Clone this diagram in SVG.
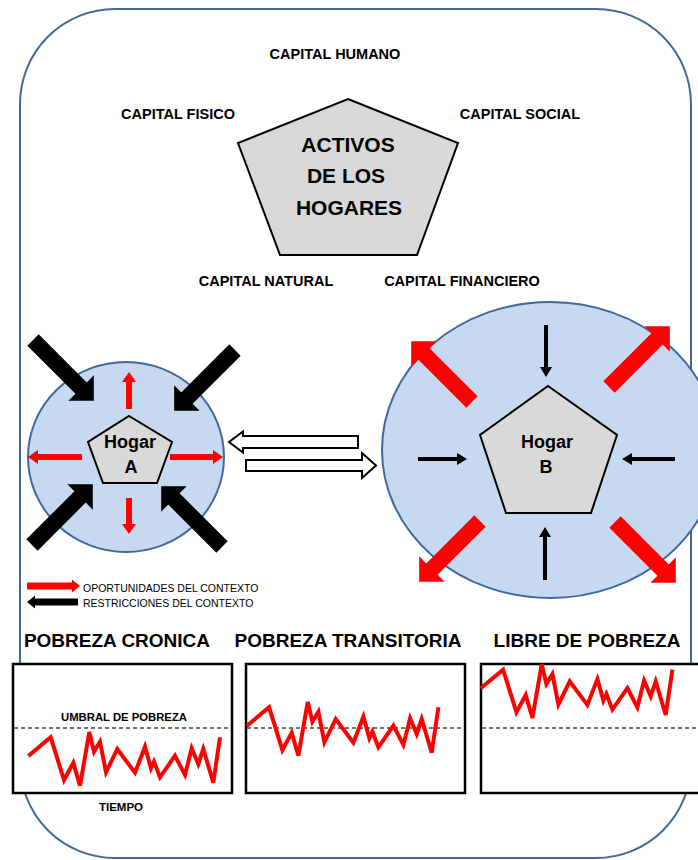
<svg xmlns="http://www.w3.org/2000/svg" xmlns:xlink="http://www.w3.org/1999/xlink" width="698" height="860" viewBox="0 0 698 860">
<style>
text{font-family:"Liberation Sans",Arial,sans-serif;fill:#000}
.b{font-weight:bold}
.cap{font-size:14.5px;font-weight:bold;text-anchor:middle}
.title{font-size:19px;font-weight:bold;text-anchor:middle}
.pent{fill:#d9d9d9;stroke:#000;stroke-width:2;stroke-linejoin:miter}
.circ{fill:#c6d9f1;stroke:#41699a;stroke-width:2}
.box{fill:#fff;stroke:#000;stroke-width:2.5}
.dash{stroke:#444;stroke-width:1.5;stroke-dasharray:4 3;fill:none}
.zig{fill:none;stroke:#ff0000;stroke-width:4;stroke-linejoin:miter}
.red{fill:#ff0000}
.blk{fill:#000}
.hollow{fill:#fff;stroke:#000;stroke-width:2;stroke-linejoin:miter}
</style>
<defs>
<polygon id="bigArrow" points="0,-8 68,-8 68,-18 86,0 68,18 68,8 0,8"/>
<polyline id="zigLine" points="28.3,756 50.7,737.3 64,780 73.3,762.7 80,785.7 89.3,732 94,751.7 100,741.7 106,772.3 117.3,749 135,772.7 145,746.7 151,768.3 154,761.7 160,777.3 175,755.7 185,775 191.7,748.3 198.3,764 203.3,749 213.3,782.7 220,737.3"/>
</defs>
<rect width="698" height="860" fill="#fff"/>
<g id="frame">
<rect x="20" y="9" width="671" height="849" rx="95" ry="95" fill="none" stroke="#41699a" stroke-width="2"/>
</g>
<g id="activos">
<polygon class="pent" points="348,99 458,143 417,255 280,255 238,143"/>
<text class="b" font-size="21" text-anchor="middle" x="348" y="152">ACTIVOS</text>
<text class="b" font-size="21" text-anchor="middle" x="346" y="183">DE LOS</text>
<text class="b" font-size="21" text-anchor="middle" x="349" y="215">HOGARES</text>
</g>
<g id="capitales">
<text class="cap" x="335" y="59">CAPITAL HUMANO</text>
<text class="cap" x="178" y="119">CAPITAL FISICO</text>
<text class="cap" x="520" y="119">CAPITAL SOCIAL</text>
<text class="cap" x="266" y="286">CAPITAL NATURAL</text>
<text class="cap" x="462" y="286">CAPITAL FINANCIERO</text>
</g>
<g id="circuloA">
<ellipse class="circ" cx="126" cy="457" rx="98" ry="95"/>
</g>
<g id="circuloB">
<ellipse class="circ" cx="550" cy="450" rx="168" ry="148"/>
</g>
<g id="hogarA">
<polygon class="pent" points="129,416 172,442 157,483 103,483 88,442"/>
<text class="b" font-size="18" text-anchor="middle" x="130" y="448">Hogar</text>
<text class="b" font-size="18" text-anchor="middle" x="131" y="473">A</text>
</g>
<g id="hogarB">
<polygon class="pent" points="548,386 617,435 591,513 506,513 480,435"/>
<text class="b" font-size="18" text-anchor="middle" x="547" y="448">Hogar</text>
<text class="b" font-size="18" text-anchor="middle" x="546" y="473">B</text>
</g>
<g id="connectors">
<!-- circle A restrictions (black, inward) -->
<use xlink:href="#bigArrow" class="blk" transform="translate(33,340) rotate(45)"/>
<use xlink:href="#bigArrow" class="blk" transform="translate(235,350) rotate(135)"/>
<use xlink:href="#bigArrow" class="blk" transform="translate(32,545) rotate(-45)"/>
<use xlink:href="#bigArrow" class="blk" transform="translate(222,547) rotate(-135)"/>
<!-- circle A opportunities (red, small, outward) -->
<polygon class="red" points="126,409 132,409 132,382 136,382 129,372 122,382 126,382"/>
<polygon class="red" points="126,498 132,498 132,524 136,524 129,534 122,524 126,524"/>
<polygon class="red" points="82,454 38,454 38,450 28,457 38,464 38,460 82,460"/>
<polygon class="red" points="170,454 213,454 213,450 223,457 213,464 213,460 170,460"/>
<!-- circle B opportunities (red, big, outward) -->
<use xlink:href="#bigArrow" class="red" transform="translate(472,402) rotate(-135)"/>
<use xlink:href="#bigArrow" class="red" transform="translate(609,387) rotate(-45)"/>
<use xlink:href="#bigArrow" class="red" transform="translate(480,521) rotate(135)"/>
<use xlink:href="#bigArrow" class="red" transform="translate(615,522) rotate(45)"/>
<!-- circle B restrictions (black, thin, inward) -->
<polygon class="blk" points="544,325 548,325 548,367 552,367 546,377 540,367 544,367"/>
<polygon class="blk" points="543,580 547,580 547,537 551,537 545,527 539,537 543,537"/>
<polygon class="blk" points="418,457 457,457 457,453 467,459 457,465 457,461 418,461"/>
<polygon class="blk" points="675,457 632,457 632,453 622,459 632,465 632,461 675,461"/>
<!-- between households -->
<polygon class="hollow" points="229,442 243,431.5 243,436 358,436 358,448 243,448 243,452.5"/>
<polygon class="hollow" points="246,460 362,460 362,453 376,465.5 362,478 362,471 246,471"/>
</g>
<g id="leyenda">
<polygon class="red" points="27,582.5 72,582.5 72,579.5 80,586 72,592.5 72,589.5 27,589.5"/>
<polygon class="blk" points="78,598.5 35,598.5 35,595.5 27,602 35,608.5 35,605.5 78,605.5"/>
<text font-size="10.5" x="83" y="592">OPORTUNIDADES DEL CONTEXTO</text>
<text font-size="10.5" x="83" y="607">RESTRICCIONES DEL CONTEXTO</text>
</g>
<g id="pobrezaCronica">
<text class="title" x="117" y="647">POBREZA CRONICA</text>
<rect class="box" x="13" y="664" width="219" height="129"/>
<line class="dash" x1="14" y1="728" x2="231" y2="728"/>
<text class="b" font-size="11.3" text-anchor="middle" x="124" y="721">UMBRAL DE POBREZA</text>
<use xlink:href="#zigLine" class="zig"/>
<text class="b" font-size="11.5" text-anchor="middle" x="121" y="811">TIEMPO</text>
</g>
<g id="pobrezaTransitoria">
<text class="title" x="348" y="647">POBREZA TRANSITORIA</text>
<rect class="box" x="246" y="664" width="219" height="129"/>
<line class="dash" x1="247" y1="728" x2="464" y2="728"/>
<use xlink:href="#zigLine" class="zig" transform="translate(218.4,-30)"/>
</g>
<g id="librePobreza">
<text class="title" x="587" y="647">LIBRE DE POBREZA</text>
<rect class="box" x="481" y="664" width="219" height="129"/>
<line class="dash" x1="482" y1="728" x2="699" y2="728"/>
<use xlink:href="#zigLine" class="zig" transform="translate(452.4,-67.7)"/>
</g>
</svg>
